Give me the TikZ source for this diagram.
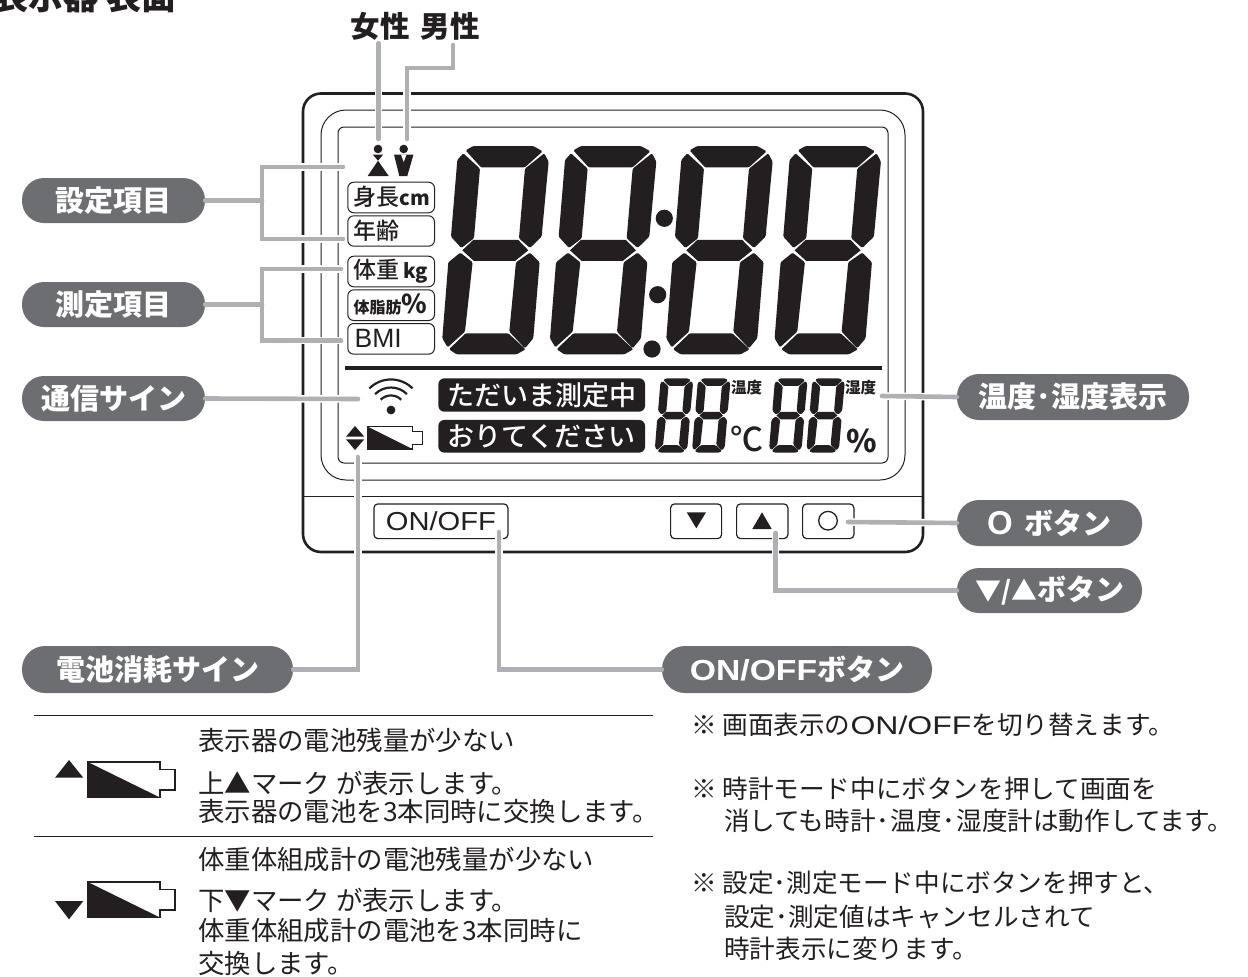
\documentclass[tikz,border=0pt]{standalone}
\usepackage{fontspec}
\usepackage{graphicx}
\setmainfont{Noto Sans CJK JP}
\newfontfamily\jpm{Noto Sans CJK JP Medium}
\newfontfamily\lat{Liberation Sans}
\usetikzlibrary{positioning}
\definecolor{ink}{HTML}{231F20}
\definecolor{leadgray}{HTML}{AEB0B3}
\definecolor{pillgray}{HTML}{6D6E71}
\newcommand{\fs}[1]{\fontsize{#1}{#1}\selectfont}
\newcommand{\wide}[2]{\scalebox{#1}[1]{#2}}
\newcommand{\segdigit}[3]{%
 \begin{scope}[shift={(#1,#2)},scale=#3,shift={(-427,-168)}]
  \fill[ink,rounded corners=1.2pt] (497,181)--(520,168)--(700,168)--(728,184)--(675,232)--(543,232)--cycle;
  \fill[ink,rounded corners=1.2pt] (490,190)--(540,236)--(522,445)--(484,474)--(453,440)--(472,210)--cycle;
  \fill[ink,rounded corners=1.2pt] (733,190)--(746,215)--(725,440)--(690,474)--(657,445)--(675,236)--cycle;
  \fill[ink] (487,481)--(520,450)--(655,450)--(685,481)--(645,513)--(522,513)--cycle;
  \fill[ink,rounded corners=1.2pt] (481,488)--(518,517)--(495,725)--(443,772)--(427,745)--(445,517)--cycle;
  \fill[ink,rounded corners=1.2pt] (690,488)--(719,517)--(700,745)--(675,775)--(628,725)--(648,517)--cycle;
  \fill[ink,rounded corners=1.2pt] (447,778)--(497,730)--(625,730)--(677,778)--(650,793)--(470,793)--cycle;
 \end{scope}}
\newcommand{\battery}[6]{% x0 x1 xnub y0 y1 lw
 \pgfmathsetmacro{\nubA}{#4+(#5-#4)*0.21}\pgfmathsetmacro{\nubB}{#5-(#5-#4)*0.21}
 \draw[ink,line width=#6] (#1,#4)--(#2,#4)--(#2,\nubA)--(#3,\nubA)--(#3,\nubB)--(#2,\nubB)--(#2,#5)--(#1,#5)--cycle;
 \fill[ink] (#1,#4)--(#1,#5)--(#2,#5)--cycle;}
\tikzset{
 x=1pt,y=-1pt,
 frameline/.style={draw=ink,line width=1pt},
 lcdbox/.style={draw=ink,line width=1pt,rounded corners=6pt,fill=white},
 lcdtext/.style={text=ink,inner sep=0pt,anchor=west,font=\fs{23}\jpm},
 pill/.style={fill=pillgray,rounded corners=22pt,text=white,font=\fs{29}\bfseries,inner sep=0pt,anchor=center},
 blackbox/.style={fill=ink,rounded corners=6pt,text=white,font=\fs{27}\jpm,inner sep=0pt,anchor=center},
 leaderline/.style={draw=leadgray,line width=4.6pt,line cap=round},
 leader/.style={leaderline,preaction={draw=white,line width=7.5pt,line cap=butt}},
 body/.style={text=ink,inner sep=0pt,anchor=west,font=\fs{26.4}},
 bodyr/.style={text=ink,inner sep=0pt,anchor=west,font=\fs{25.6}},
 btn/.style={draw=ink,line width=1.2pt,rounded corners=4pt,fill=white,inner sep=0pt},
}
\begin{document}
\begin{tikzpicture}
\useasboundingbox (0,0) rectangle (1248,977);
\clip (0,0) rectangle (1248,977);
\fill[white] (0,0) rectangle (1248,977);
% title
\node[inner sep=0pt,anchor=east,text=ink,font=\fs{35}\bfseries] (title) at (177,-4) {表示器 表面};
% frame
\draw[ink,line width=2.6pt,rounded corners=18pt] (303,93.5) rectangle (923,552);
\draw[frameline,rounded corners=25pt] (321,110) rectangle (905,480);
\draw[frameline,rounded corners=6pt] (338,127) rectangle (888,463);
\draw[ink,line width=1pt] (303,496)--(923,496);
\draw[ink,line width=3.6pt] (344.5,367.7)--(882,367.7);
% big digits
\segdigit{442.3}{146}{0.3333}
\segdigit{550}{146}{0.3333}
\segdigit{666.3}{146}{0.3333}
\segdigit{774.6}{146}{0.3333}
\fill[ink] (664.3,218.3) circle (8.6);
\fill[ink] (657.7,294.7) circle (8.6);
\fill[ink] (652,349) circle (8.6);
% small digits
\segdigit{655}{378.3}{0.119}
\segdigit{692.3}{378.3}{0.119}
\segdigit{769.3}{378.3}{0.119}
\segdigit{806.7}{378.3}{0.119}
% gender icons
\fill[ink] (378,149) circle (4.3);
\fill[ink] (372.7,154.5)--(383.3,154.5)--(378,160.7)--cycle;
\fill[ink] (378,160.7)--(388.7,176)--(367.7,176)--cycle;
\fill[ink] (403.7,149) circle (4.3);
\fill[ink] (394,154.5)--(413.5,154.5)--(407.3,176)--(399.3,176)--cycle;
\fill[white] (401,154.5)--(406.5,154.5)--(403.7,162)--cycle;
% lcd boxes
\node[lcdbox,minimum width=86.7pt,minimum height=30.6pt,anchor=north west] (bHeight) at (347.3,181.7) {};
\node[lcdbox,minimum width=86.7pt,minimum height=30.4pt,anchor=north west] (bAge) at (347.3,215.3) {};
\node[lcdbox,minimum width=86.7pt,minimum height=30.6pt,anchor=north west] (bWeight) at (347.3,255.7) {};
\node[lcdbox,minimum width=86.7pt,minimum height=30.7pt,anchor=north west] (bFat) at (347.3,289.3) {};
\node[lcdbox,minimum width=86.7pt,minimum height=30.7pt,anchor=north west] (bBmi) at (347.3,323) {};
\node[lcdtext] (tHeight) at (353.5,197) {身長\fs{20}\bfseries cm};
\node[lcdtext] (tAge) at (353.5,230.5) {年齢};
\node[lcdtext] (tWeight) at (353.5,271) {体重\fs{20}\bfseries\,kg};
\node[lcdtext,font=\fs{16}\bfseries] (tFat) at (353.5,304.7) {体脂肪\fs{26}\%};
\node[lcdtext,font=\fs{26.5}\lat] (tBmi) at (354.5,338.5) {BMI};
% wifi
\fill[ink] (391,410) circle (4.4);
\draw[ink,line width=2.2pt] (380.7,399.7) arc[start angle=135,end angle=45,radius=14.5pt];
\draw[ink,line width=2.2pt] (375.1,394.1) arc[start angle=135,end angle=45,radius=22.5pt];
\draw[ink,line width=2.2pt] (369.4,388.4) arc[start angle=135,end angle=45,radius=30.5pt];
% battery small
\fill[ink] (346,436.7)--(364.3,436.7)--(355,426)--cycle;
\fill[ink] (346,439.3)--(364.3,439.3)--(355,450)--cycle;
\battery{367.3}{412.3}{422.7}{426.5}{449}{1.2pt}
% black labels
\node[blackbox,minimum width=206.7pt,minimum height=33.4pt] (bMeasure) at (541.7,395) {ただいま測定中};
\node[blackbox,minimum width=206.7pt,minimum height=32.7pt] (bOff) at (541.7,436.3) {おりてください};
% small LCD texts
\node[lcdtext,font=\fs{15.5}\bfseries] (tTemp) at (731,387.5) {温度};
\node[lcdtext,font=\fs{15.5}\bfseries] (tHum) at (845,387.5) {湿度};
\node[lcdtext,font=\fs{33}\jpm] (tDeg) at (730,439) {℃};
\node[lcdtext,font=\fs{31}\bfseries] (tPct) at (846,441) {\%};
% buttons
\node[btn,minimum width=134pt,minimum height=34.7pt,anchor=north west,font=\fs{26}\lat,text=ink] (bOnOff) at (373.3,503.3) {\wide{1.12}{ON/OFF}};
\node[btn,minimum width=51pt,minimum height=34.7pt,anchor=north west] (bDown) at (670,503.3) {};
\node[btn,minimum width=51.3pt,minimum height=34.7pt,anchor=north west] (bUp) at (736,503.3) {};
\node[btn,minimum width=51.3pt,minimum height=34.7pt,anchor=north west] (bO) at (802,503.3) {};
\fill[ink] (686.7,512.3)--(706,512.3)--(696.3,528.3)--cycle;
\fill[ink] (752.3,529)--(771.7,529)--(762,512.3)--cycle;
\draw[ink,line width=1.3pt] (828,520.7) circle (9.3);
% pills
\node[pill,minimum width=183pt,minimum height=45pt] (pSet) at (113.5,200.5) {設定項目};
\node[pill,minimum width=183pt,minimum height=45pt] (pMeas) at (113.5,304.5) {測定項目};
\node[pill,minimum width=183pt,minimum height=45pt] (pComm) at (113.5,398.5) {通信サイン};
\node[pill,minimum width=271pt,minimum height=47pt,rounded corners=23pt] (pBatt) at (157.5,669.5) {電池消耗サイン};
\node[pill,minimum width=270pt,minimum height=47pt,rounded corners=23pt] (pOnOff) at (797,669.5) {\wide{1.16}{\lat\fs{29}\bfseries ON/OFF}ボタン};
\node[pill,minimum width=185pt,minimum height=45pt] (pArrow) at (1049.5,590.5) {\fs{26}▼/▲\fs{29}ボタン};
\node[pill,minimum width=185pt,minimum height=46pt] (pO) at (1049.5,523) {{\lat\fs{33}\bfseries O}\kern12pt ボタン};
\node[pill,minimum width=232pt,minimum height=46pt] (pTH) at (1073,397) {温度･湿度表示};
% gender labels
\node[inner sep=0pt,text=ink,font=\fs{29.5}\bfseries] (lF) at (380,26) {女性};
\node[inner sep=0pt,text=ink,font=\fs{29.5}\bfseries] (lM) at (450,26) {男性};
% leader end points
\coordinate (eF) at (378.7,139);
\coordinate (eM) at (407,139);
\coordinate (eS1) at (343,167);
\coordinate (eS2) at (343,239);
\coordinate (eM1) at (341,269);
\coordinate (eM2) at (341,340.7);
\coordinate (eC) at (358,399);
\coordinate (eB) at (358,457);
\coordinate (eOn) at (499,532);
\coordinate (eAr) at (775.7,533);
\coordinate (eO) at (848,522);
\coordinate (eTH) at (882,396);
% leaders
\draw[leader] ([yshift=-3pt]lF.south -| eF) -- (eF);
\draw[leader] (453,45) -- (453,68) -- (407,68) -- (eM);
\draw[leader] (eS1) -- (262,167) -- (262,239) -- (eS2);
\draw[leaderline] (pSet.east) -- (262,200.5);
\draw[leader] (eM1) -- (262,269) -- (262,340.7) -- (eM2);
\draw[leaderline] (pMeas.east) -- (262,304.5);
\draw[leader] (pComm.east) -- (eC);
\draw[leader] (pBatt.east) -| (eB);
\draw[leader] (pOnOff.west) -| (eOn);
\draw[leader] (pArrow.west) -| (eAr);
\draw[leader] (pO.west) -- (eO);
\draw[leader] (pTH.west) -- (eTH);
% lower rules
\draw[ink,line width=1pt] (34,715)--(653,715);
\draw[ink,line width=1pt] (34,836)--(653,836);
\fill[ink] (55,777.7)--(83.3,777.7)--(69,760)--cycle;
\battery{87.7}{160}{175}{762}{797.5}{1.7pt}
\fill[ink] (55,901)--(83.3,901)--(69,919.3)--cycle;
\battery{87.7}{160}{175}{882}{917.5}{1.7pt}
% body text
\node[body] (a1) at (198,740) {表示器の電池残量が少ない};
\node[body] (a2) at (198,783) {上▲マーク が表示します。};
\node[body] (a3) at (198,811) {表示器の電池を3本同時に交換します。};
\node[body] (b1) at (198,859) {体重体組成計の電池残量が少ない};
\node[body] (b2) at (198,900) {下▼マーク が表示します。};
\node[body] (b3) at (198,931) {体重体組成計の電池を3本同時に};
\node[body] (b4) at (198,963) {交換します。};
\node[bodyr] (c1) at (691,725) {※ 画面表示の\wide{1.25}{\lat ON/OFF}を切り替えます。};
\node[bodyr] (c2) at (691,789) {※ 時計モード中にボタンを押して画面を};
\node[bodyr] (c3) at (724,821) {消しても時計\kern1pt･\kern1pt 温度\kern1pt･\kern1pt 湿度計は動作してます。};
\node[bodyr] (c4) at (691,883) {※ 設定･測定モード中にボタンを押すと、};
\node[bodyr] (c5) at (724,917) {設定･測定値はキャンセルされて};
\node[bodyr] (c6) at (724,949) {時計表示に変ります。};
\end{tikzpicture}
\end{document}
